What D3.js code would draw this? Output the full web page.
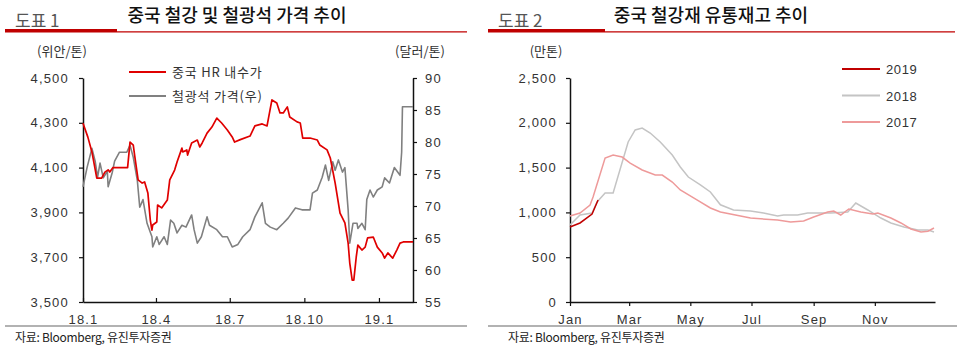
<!DOCTYPE html>
<html>
<head>
<meta charset="utf-8">
<script src="https://cdn.jsdelivr.net/npm/d3@7"></script>
<style>
  html, body { margin: 0; padding: 0; background: #fff; }
  svg { display: block; font-family: "Liberation Sans", Arial, sans-serif; }
  .kr { font-family: "Noto Sans CJK KR", "Noto Sans", sans-serif; }
</style>
</head>
<body>
<svg id="chart" width="960" height="347"></svg>
<script>
// ---- Figure 1: China HR domestic price (CNY/t, left) and iron ore price (USD/t, right)
const hrDates = ["2018-01-01","2018-01-07","2018-01-12","2018-01-18","2018-01-24","2018-01-28","2018-02-01","2018-02-03","2018-02-07","2018-02-25","2018-02-28","2018-03-04","2018-03-06","2018-03-10","2018-03-15","2018-03-18","2018-03-22","2018-03-25","2018-03-27","2018-03-28","2018-04-02","2018-04-03","2018-04-08","2018-04-15","2018-04-18","2018-04-24","2018-04-27","2018-05-03","2018-05-04","2018-05-09","2018-05-10","2018-05-15","2018-05-22","2018-05-25","2018-05-28","2018-06-03","2018-06-09","2018-06-15","2018-06-21","2018-06-28","2018-07-04","2018-07-07","2018-07-14","2018-07-26","2018-08-01","2018-08-10","2018-08-16","2018-08-22","2018-08-28","2018-09-01","2018-09-05","2018-09-10","2018-09-13","2018-09-22","2018-09-26","2018-09-29","2018-10-08","2018-10-17","2018-10-20","2018-10-29","2018-11-02","2018-11-08","2018-11-14","2018-11-20","2018-11-24","2018-11-26","2018-11-29","2018-12-01","2018-12-04","2018-12-06","2018-12-11","2018-12-15","2018-12-18","2018-12-25","2018-12-30","2019-01-05","2019-01-08","2019-01-12","2019-01-18","2019-01-23","2019-01-27","2019-01-31","2019-02-12"];
const hrValues = [4298,4236,4170,4053,4053,4080,4090,4080,4100,4100,4214,4200,4147,4045,4031,4036,3987,3866,3821,3844,3857,3933,3920,3955,4045,4089,4125,4187,4170,4179,4156,4210,4223,4192,4210,4254,4281,4321,4299,4268,4237,4214,4225,4241,4286,4295,4286,4402,4388,4344,4344,4371,4326,4304,4299,4232,4232,4223,4201,4179,4143,4031,3897,3853,3763,3674,3598,3598,3701,3754,3732,3745,3786,3790,3745,3719,3696,3719,3696,3732,3763,3768,3768];

const oreDates = ["2018-01-01","2018-01-06","2018-01-12","2018-01-16","2018-01-19","2018-01-22","2018-01-26","2018-01-31","2018-02-01","2018-02-06","2018-02-09","2018-02-15","2018-02-24","2018-02-28","2018-03-04","2018-03-09","2018-03-12","2018-03-16","2018-03-21","2018-03-27","2018-03-28","2018-04-02","2018-04-05","2018-04-11","2018-04-15","2018-04-19","2018-04-23","2018-04-27","2018-05-03","2018-05-08","2018-05-15","2018-05-18","2018-05-22","2018-05-27","2018-06-03","2018-06-06","2018-06-15","2018-06-22","2018-06-28","2018-07-04","2018-07-11","2018-07-17","2018-07-26","2018-08-01","2018-08-10","2018-08-14","2018-08-20","2018-08-28","2018-09-05","2018-09-11","2018-09-20","2018-09-28","2018-10-08","2018-10-11","2018-10-17","2018-10-23","2018-10-27","2018-10-31","2018-11-05","2018-11-08","2018-11-12","2018-11-17","2018-11-20","2018-11-24","2018-11-26","2018-11-30","2018-12-05","2018-12-06","2018-12-11","2018-12-15","2018-12-17","2018-12-21","2018-12-25","2018-12-30","2019-01-05","2019-01-08","2019-01-14","2019-01-20","2019-01-27","2019-01-29","2019-01-30","2019-02-12"];
const oreValues = [73,76,79,77,74.5,76.7,74.4,75.4,73,75.2,77,78.4,78.4,79.5,77.6,74,69.8,71,67.3,65.2,63.6,65.2,64,65.2,64,67.8,67.3,65.8,67,66.7,68.6,66.3,64.2,65.2,68.3,67,66.3,65.2,65.2,63.6,64,65.2,66.3,68.3,70.5,67.3,66.7,66.3,67.3,68.1,69.7,69.4,69.4,72,72.5,74.5,76.4,74,76.9,75.6,77.2,75.3,76,69.4,64.2,67.3,67.3,66.5,67.3,66.3,71,72.5,71.4,72.5,73,74.4,73.6,76,74.8,78.4,85.5,85.5];

const leftTicks = [3500, 3700, 3900, 4100, 4300, 4500];
const rightTicks = [55, 60, 65, 70, 75, 80, 85, 90];
const fig1XTicks = ["2018-01-01","2018-04-01","2018-07-01","2018-10-01","2019-01-01"];
const fig1XLabels = ["18.1","18.4","18.7","18.10","19.1"];

// ---- Figure 2: China steel distribution inventory (10k tonnes), by year
const inv2019Dates = ["01-01","01-11","01-23","01-29"];
const inv2019Values = [837,882,982,1138];

const inv2018Dates = ["01-01","01-11","01-23","01-28","02-05","02-13","02-28","03-07","03-14","03-22","04-01","04-13","04-21","04-29","05-11","05-21","05-31","06-13","06-30","07-13","07-27","08-02","08-16","08-26","09-18","10-05","10-13","10-25","11-07","11-17","11-30","12-14","12-24","12-30"];
const inv2018Values = [859,971,993,1116,1217,1217,1786,1920,1942,1886,1786,1641,1507,1395,1306,1228,1085,1027,1015,993,960,971,971,993,993,1004,1105,1027,937,882,837,803,803,781];

const inv2017Dates = ["01-01","01-11","01-21","01-24","02-05","02-13","02-22","03-02","03-14","03-27","04-03","04-13","04-21","05-08","05-21","05-31","06-30","07-27","08-09","08-22","09-01","09-15","09-21","09-28","10-06","10-18","10-30","11-04","11-17","11-27","12-07","12-17","12-24","12-30"];
const inv2017Values = [960,993,1083,1172,1607,1640,1618,1551,1473,1417,1417,1339,1250,1138,1049,1004,937,915,893,904,949,1004,1015,971,1038,1004,982,993,937,882,815,781,790,826];

const fig2YTicks = [0, 500, 1000, 1500, 2000, 2500];
const fig2XTicks = ["01-01","03-01","05-01","07-01","09-01","11-01"];
const fig2XLabels = ["Jan","Mar","May","Jul","Sep","Nov"];
const fig2Series = ["2019", "2018", "2017"];

const svg = d3.select("#chart");
const parseDay = d3.timeParse("%Y-%m-%d");
const parseMD = s => parseDay("2018-" + s);
const fmt = d3.format(",");

const textColor = "#333";
const headRed = "#c00000";

// figure header: tag, red bar, title
function header(x0, x1, barEnd, tag, title, titleX) {
  svg.append("text").attr("class", "kr").attr("x", x0 + 10).attr("y", 27)
    .attr("font-size", 17).attr("fill", "#555").text(tag);
  svg.append("rect").attr("x", x0).attr("y", 29).attr("width", barEnd - x0).attr("height", 3.5)
    .attr("fill", headRed);
  svg.append("line").attr("x1", barEnd).attr("x2", x1).attr("y1", 31.8).attr("y2", 31.8)
    .attr("stroke", headRed).attr("stroke-width", 1.2);
  svg.append("text").attr("class", "kr").attr("x", titleX).attr("y", 22)
    .attr("text-anchor", "middle").attr("font-size", 18).attr("font-weight", 500)
    .attr("fill", "#111").text(title);
}

function footer(x0, x1, tx) {
  svg.append("line").attr("x1", x0).attr("x2", x1).attr("y1", 326).attr("y2", 326)
    .attr("stroke", "#999").attr("stroke-width", 1.5);
  svg.append("text").attr("class", "kr").attr("x", tx).attr("y", 342)
    .attr("font-size", 12).attr("fill", "#222").attr("letter-spacing", -0.3)
    .text("자료: Bloomberg, 유진투자증권");
}

function styleAxis(g) {
  g.selectAll(".domain").attr("stroke", "#111").attr("stroke-width", 1.5);
  g.selectAll(".tick line").attr("stroke", "#111").attr("stroke-width", 1.2);
  g.selectAll(".tick text").attr("fill", textColor).attr("font-size", 13)
    .attr("font-family", "Liberation Sans, Arial, sans-serif").attr("letter-spacing", 1.2);
}

// ================= Figure 1 =================
header(5, 467, 117, "도표 1", "중국 철강 및 철광석 가격 추이", 237);
footer(5, 467, 15);

const x1 = d3.scaleTime()
  .domain([parseDay("2018-01-01"), parseDay("2019-02-12")])
  .range([83, 413]);
const yL = d3.scaleLinear().domain([3500, 4500]).range([302, 78]);
const yR = d3.scaleLinear().domain([55, 90]).range([302, 78]);

const gx1 = svg.append("g").attr("transform", "translate(0,302)")
  .call(d3.axisBottom(x1).tickValues(fig1XTicks.map(parseDay))
    .tickFormat((d, i) => fig1XLabels[i]).tickSizeInner(-4).tickSizeOuter(0).tickPadding(10));
styleAxis(gx1);
gx1.selectAll(".tick text").attr("dy", "0.9em");

const gyL = svg.append("g").attr("transform", "translate(83,0)")
  .call(d3.axisLeft(yL).tickValues(leftTicks).tickFormat(fmt).tickSize(4).tickSizeOuter(0).tickPadding(10));
styleAxis(gyL);

const gyR = svg.append("g").attr("transform", "translate(413,0)")
  .call(d3.axisRight(yR).tickValues(rightTicks).tickSize(4).tickSizeOuter(0).tickPadding(8));
styleAxis(gyR);

svg.append("text").attr("class", "kr").attr("x", 62).attr("y", 56).attr("text-anchor", "middle")
  .attr("font-size", 13).attr("fill", textColor).text("(위안/톤)");
svg.append("text").attr("class", "kr").attr("x", 420).attr("y", 56).attr("text-anchor", "middle")
  .attr("font-size", 13).attr("fill", textColor).text("(달러/톤)");

const oreData = oreDates.map((d, i) => ({ date: parseDay(d), v: oreValues[i] }));
const hrData = hrDates.map((d, i) => ({ date: parseDay(d), v: hrValues[i] }));

svg.append("path").datum(oreData)
  .attr("fill", "none").attr("stroke", "#808080").attr("stroke-width", 1.6)
  .attr("stroke-linejoin", "round")
  .attr("d", d3.line().x(d => x1(d.date)).y(d => yR(d.v)));
svg.append("path").datum(hrData)
  .attr("fill", "none").attr("stroke", "#e00000").attr("stroke-width", 1.7)
  .attr("stroke-linejoin", "round")
  .attr("d", d3.line().x(d => x1(d.date)).y(d => yL(d.v)));

// legend
const leg1 = [
  { label: "중국 HR 내수가", color: "#e00000", y: 72 },
  { label: "철광석 가격(우)", color: "#808080", y: 96 }
];
leg1.forEach(l => {
  svg.append("line").attr("x1", 129).attr("x2", 166).attr("y1", l.y).attr("y2", l.y)
    .attr("stroke", l.color).attr("stroke-width", 1.8);
  svg.append("text").attr("class", "kr").attr("x", 172).attr("y", l.y + 5)
    .attr("font-size", 13).attr("fill", textColor).attr("letter-spacing", 0.8).text(l.label);
});

// ================= Figure 2 =================
header(488, 955, 605, "도표 2", "중국 철강재 유통재고 추이", 711);
footer(488, 957, 508);

const x2 = d3.scaleTime()
  .domain([parseMD("01-01"), parseMD("12-31")])
  .range([570, 935]);
const y2 = d3.scaleLinear().domain([0, 2500]).range([302, 78]);

const gx2 = svg.append("g").attr("transform", "translate(0,302)")
  .call(d3.axisBottom(x2).tickValues(fig2XTicks.map(parseMD))
    .tickFormat((d, i) => fig2XLabels[i]).tickSize(4).tickSizeOuter(0).tickPadding(6));
styleAxis(gx2);
gx2.selectAll(".tick text").attr("dy", "0.9em");

const gy2 = svg.append("g").attr("transform", "translate(570,0)")
  .call(d3.axisLeft(y2).tickValues(fig2YTicks).tickFormat(fmt).tickSize(4).tickSizeOuter(0).tickPadding(9));
styleAxis(gy2);

svg.append("text").attr("class", "kr").attr("x", 546).attr("y", 56).attr("text-anchor", "middle")
  .attr("font-size", 13).attr("fill", textColor).text("(만톤)");

const colors2 = { "2019": "#c00000", "2018": "#c4c4c4", "2017": "#ee9a9a" };
const series2 = {
  "2017": inv2017Dates.map((d, i) => ({ date: parseMD(d), v: inv2017Values[i] })),
  "2018": inv2018Dates.map((d, i) => ({ date: parseMD(d), v: inv2018Values[i] })),
  "2019": inv2019Dates.map((d, i) => ({ date: parseMD(d), v: inv2019Values[i] }))
};
const line2 = d3.line().x(d => x2(d.date)).y(d => y2(d.v));
["2018", "2017", "2019"].forEach(k => {
  svg.append("path").datum(series2[k])
    .attr("fill", "none").attr("stroke", colors2[k]).attr("stroke-width", 1.5)
    .attr("d", line2);
});

fig2Series.forEach((k, i) => {
  const yy = 69 + i * 26.5;
  svg.append("line").attr("x1", 842).attr("x2", 880).attr("y1", yy).attr("y2", yy)
    .attr("stroke", colors2[k]).attr("stroke-width", 1.8);
  svg.append("text").attr("x", 886).attr("y", yy + 5)
    .attr("font-size", 13).attr("fill", textColor).attr("letter-spacing", 0.6).text(k);
});
</script>
</body>
</html>
